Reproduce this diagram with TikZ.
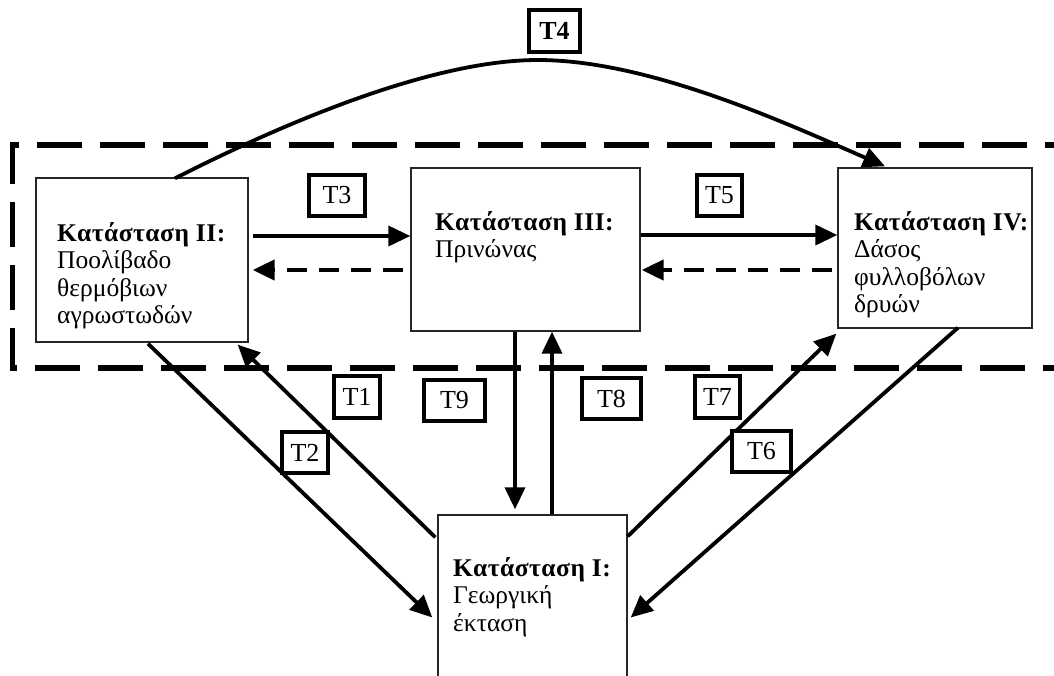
\documentclass[tikz,border=0pt]{standalone}
\usepackage{fontspec}
\setmainfont{Liberation Serif}
\usetikzlibrary{arrows.meta,calc}
\newcommand\statetitle[1]{{\bfseries\addfontfeature{LetterSpace=2}#1}}
\begin{document}
\begin{tikzpicture}[x=1pt,y=-1pt,
  statebox/.style={draw=black!85,line width=1.4pt,fill=white,inner sep=0pt},
  statetext/.style={anchor=north west,inner sep=0pt,align=left,font=\fontsize{25.5}{27.6}\selectfont},
  tlabel/.style={draw,line width=4.2pt,fill=white,inner sep=0pt,font=\fontsize{26}{26}\selectfont},
  conn/.style={line width=3.8pt,-{Triangle[length=22pt,width=20pt]}},
  dconn/.style={line width=4.5pt,dash pattern=on 20pt off 12pt,-{Triangle[length=22pt,width=20pt]}},
  region/.style={line width=5.5pt,dash pattern=on 45pt off 18pt}]
\useasboundingbox (0,0) rectangle (1054,675);
% dashed region
\draw[region] (1090,145) -- (12.5,145) -- (12.5,368) -- (1090,368);
% state boxes
\node[statebox,minimum width=212pt,minimum height=164pt] (s2) at (142,260) {};
\node[statebox,minimum width=229pt,minimum height=163pt] (s3) at (525.5,249.5) {};
\node[statebox,minimum width=194pt,minimum height=160pt] (s4) at (935,248) {};
\node[statebox,minimum width=189pt,minimum height=205pt] (s1) at (532.5,617.5) {};
% texts
\node[statetext] (l2) at (57,222) {\statetitle{Κατάσταση II:}\\Ποολίβαδο\\θερμόβιων\\αγρωστωδών};
\node[statetext] (l3) at (435,211) {\statetitle{Κατάσταση III:}\\Πρινώνας};
\node[statetext] (l4) at (854,211) {\statetitle{Κατάσταση IV:}\\Δάσος\\φυλλοβόλων\\δρυών};
\node[statetext] (l1) at (453,557) {\statetitle{Κατάσταση I:}\\Γεωργική\\έκταση};
% connectors
\draw[conn] ($(s2.east)+(4,-24)$) -- ($(s3.west)+(0,-13.5)$);
\draw[dconn] ($(s3.west)+(-7,20.5)$) -- ($(s2.east)+(4,10)$);
\draw[conn] ($(s3.east)+(0,-14.5)$) -- ($(s4.west)+(0,-13)$);
\draw[dconn] ($(s4.west)+(-5,22)$) -- ($(s3.east)+(1,20.5)$);
\draw[conn] ($(s3.south)+(-10.5,0)$) -- ($(s1.north)+(-17.5,-5)$);
\draw[conn] ($(s1.north)+(19.5,0)$) -- ($(s3.south)+(26.5,0)$);
\draw[conn] ($(s1.north west)+(-2,23)$) -- ($(s2.south east)+(-11,2)$);
\draw[conn] ($(s2.south)+(6,1)$) -- ($(s1.west)+(-5,0)$);
\draw[conn] ($(s1.north east)+(0,22)$) -- ($(s4.south west)+(-1,5)$);
\draw[conn] ($(s4.south)+(23,-1)$) -- ($(s1.east)+(3,0)$);
\coordinate (peak) at (538,60);
\draw[conn] ($(s2.north)+(33,1)$) .. controls (280,125) and (430,60) .. (peak)
  .. controls (650,60) and (790,125) .. ($(s4.north)+(-50,-1)$);
% transition labels
\node[tlabel,minimum width=51pt,minimum height=42pt,font=\fontsize{26}{26}\selectfont\bfseries] (T4) at (554.5,31) {T4};
\node[tlabel,minimum width=56pt,minimum height=41pt] (T3) at (337,195.5) {T3};
\node[tlabel,minimum width=45pt,minimum height=41pt] (T5) at (719.5,195.5) {T5};
\node[tlabel,minimum width=46pt,minimum height=42pt] (T1) at (357,397) {T1};
\node[tlabel,minimum width=61pt,minimum height=41pt] (T9) at (454.5,400.5) {T9};
\node[tlabel,minimum width=59pt,minimum height=41pt] (T8) at (611.5,398.5) {T8};
\node[tlabel,minimum width=45pt,minimum height=42pt] (T7) at (717.5,397) {T7};
\node[tlabel,minimum width=46pt,minimum height=41pt] (T2) at (305,452.5) {T2};
\node[tlabel,minimum width=59pt,minimum height=41pt] (T6) at (761.5,451.5) {T6};
\end{tikzpicture}
\end{document}
